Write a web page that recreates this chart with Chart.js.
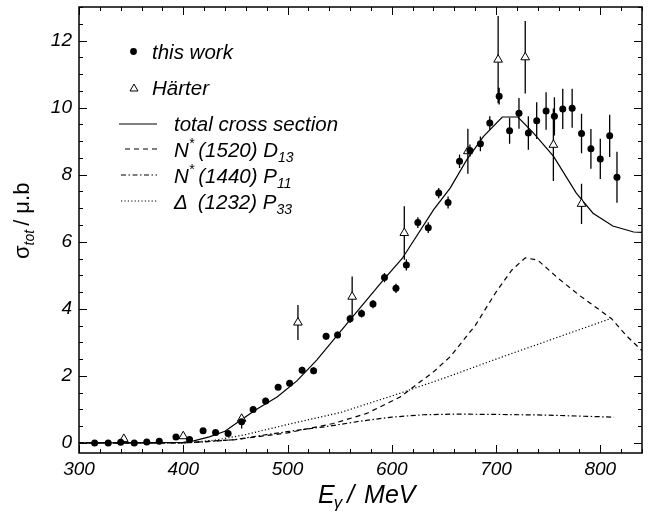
<!DOCTYPE html>
<html>
<head>
<meta charset="utf-8">
<script src="https://cdn.jsdelivr.net/npm/chart.js@4.4.0/dist/chart.umd.min.js"></script>
<style>
  html, body { margin: 0; padding: 0; background: #fff; }
  #wrap { width: 648px; height: 514px; position: relative; }
</style>
</head>
<body>
<div id="wrap"><canvas id="chart"></canvas></div>
<script>
// this work
const workE = [315, 328, 340, 353, 365, 377, 393, 406, 419, 431, 443, 456, 467, 479, 491, 502,
  514, 525, 537, 548, 560, 571, 582, 593, 604, 614, 625, 635, 645, 654, 665, 675, 685, 694,
  703, 713, 722, 731, 739, 748, 756, 764, 773, 782, 791, 800, 809, 816];
const workS = [0, 0, 0.02, 0, 0.03, 0.05, 0.18, 0.10, 0.36, 0.31, 0.28, 0.63, 1.0, 1.25, 1.66, 1.78,
  2.17, 2.15, 3.18, 3.22, 3.70, 3.86, 4.14, 4.93, 4.61, 5.31, 6.57, 6.42, 7.45, 7.17, 8.40, 8.72, 8.92, 9.54,
  10.34, 9.31, 9.83, 9.24, 9.61, 9.90, 9.74, 9.96, 9.98, 9.23, 8.77, 8.47, 9.16, 7.92];
const workErr = [0.03, 0.03, 0.03, 0.03, 0.03, 0.03, 0.05, 0.05, 0.06, 0.06, 0.06, 0.2, 0.08, 0.08, 0.08, 0.08,
  0.1, 0.1, 0.1, 0.1, 0.12, 0.12, 0.12, 0.14, 0.14, 0.17, 0.16, 0.16, 0.15, 0.18, 0.2, 0.18, 0.22, 0.2,
  0.25, 0.39, 0.46, 0.5, 0.55, 0.56, 0.57, 0.6, 0.58, 0.59, 0.59, 0.6, 0.63, 0.76];

// Härter
const harterE = [343, 400, 456, 510, 562, 612, 673, 702, 728, 755, 782];
const harterS = [0.12, 0.2, 0.72, 3.59, 4.36, 6.26, 8.70, 11.43, 11.5, 8.89, 7.13];
const harterErr = [0.05, 0.05, 0.12, 0.52, 0.6, 0.8, 0.67, 1.3, 1.08, 1.08, 0.6];

// model curves
const totE = [300, 340, 380, 400, 410, 425, 440, 456, 470, 490, 509, 528, 560, 592, 610, 640, 656,
  672, 688, 706, 721, 736, 755, 777, 793, 812, 832, 840];
const totS = [0, 0, 0.01, 0.02, 0.06, 0.18, 0.35, 0.7, 1.0, 1.37, 1.85, 2.47, 3.67, 4.86, 5.5, 6.95, 7.6,
  8.45, 9.14, 9.72, 9.72, 9.24, 8.55, 7.45, 6.85, 6.47, 6.29, 6.28];
const d13E = [300, 400, 450, 500, 544, 576, 608, 640, 656, 680, 700, 715, 728, 740, 760, 780, 800, 811, 825, 840];
const d13S = [0, 0, 0.1, 0.3, 0.58, 0.88, 1.37, 2.12, 2.57, 3.5, 4.5, 5.15, 5.52, 5.45, 4.9, 4.4, 3.95, 3.7, 3.2, 2.75];
const p11E = [300, 400, 420, 450, 480, 510, 540, 570, 600, 630, 660, 700, 750, 790, 813];
const p11S = [0, 0, 0.03, 0.1, 0.25, 0.38, 0.5, 0.65, 0.77, 0.84, 0.86, 0.85, 0.83, 0.79, 0.77];
const p33E = [300, 400, 430, 460, 500, 550, 600, 650, 700, 750, 811];
const p33S = [0, 0, 0.08, 0.25, 0.55, 0.9, 1.4, 1.93, 2.5, 3.05, 3.72];

const xTicks = [300, 400, 500, 600, 700, 800];
const yTicks = [0, 2, 4, 6, 8, 10, 12];
const xMinorStep = 20;
const yMinorStep = 0.5;

const FONT = '"Liberation Sans", Arial, sans-serif';
const pts = (xs, ys) => xs.map((x, i) => ({ x: x, y: ys[i] }));

const errorBars = {
  id: 'errorBars',
  beforeDatasetsDraw(chart) {
    const { ctx, scales: { x, y } } = chart;
    ctx.save();
    ctx.strokeStyle = '#000';
    ctx.lineWidth = 1.3;
    ctx.beginPath();
    [[workE, workS, workErr], [harterE, harterS, harterErr]].forEach(([es, ss, errs]) => {
      es.forEach((e, i) => {
        const px = x.getPixelForValue(e);
        ctx.moveTo(px, y.getPixelForValue(ss[i] - errs[i]));
        ctx.lineTo(px, y.getPixelForValue(ss[i] + errs[i]));
      });
    });
    ctx.stroke();
    ctx.restore();
  }
};

function drawRich(ctx, x, y, parts) {
  parts.forEach(p => {
    ctx.font = (p.italic === false ? '' : 'italic ') + p.size + 'px ' + FONT;
    ctx.fillText(p.t, x, y + (p.dy || 0));
    x += ctx.measureText(p.t).width + (p.gap || 0);
  });
}

const frameAndText = {
  id: 'frameAndText',
  afterDatasetsDraw(chart) {
    const { ctx, chartArea: a, scales: { x, y } } = chart;
    ctx.save();
    ctx.strokeStyle = '#000';
    ctx.lineWidth = 1;
    ctx.beginPath();
    for (let v = x.min; v <= x.max; v += xMinorStep) {
      const px = Math.round(x.getPixelForValue(v)) + 0.5;
      const len = xTicks.includes(v) ? 8 : 4;
      ctx.moveTo(px, a.bottom); ctx.lineTo(px, a.bottom - len);
      ctx.moveTo(px, a.top); ctx.lineTo(px, a.top + len);
    }
    for (let v = 0; v <= y.max; v += yMinorStep) {
      const py = Math.round(y.getPixelForValue(v)) + 0.5;
      const len = yTicks.includes(v) ? 8 : 4;
      ctx.moveTo(a.left, py); ctx.lineTo(a.left + len, py);
      ctx.moveTo(a.right, py); ctx.lineTo(a.right - len, py);
    }
    ctx.stroke();
    ctx.lineWidth = 1.5;
    ctx.strokeRect(a.left, a.top, a.right - a.left, a.bottom - a.top);

    // legend
    ctx.fillStyle = '#000';
    ctx.textBaseline = 'alphabetic';
    ctx.beginPath();
    ctx.arc(133.5, 51.5, 3.4, 0, Math.PI * 2);
    ctx.fill();
    ctx.lineWidth = 1;
    ctx.beginPath();
    ctx.moveTo(134, 84); ctx.lineTo(138, 91); ctx.lineTo(130, 91); ctx.closePath();
    ctx.stroke();
    drawRich(ctx, 152, 59, [{ t: 'this work', size: 20.5 }]);
    drawRich(ctx, 152, 95, [{ t: 'Härter', size: 20.5 }]);

    const rows = [
      { yy: 124, dash: [], x0: 119 },
      { yy: 149, dash: [5, 4], x0: 125 },
      { yy: 175, dash: [5, 2.5, 1.5, 2.5], x0: 121 },
      { yy: 201, dash: [1.2, 2.2], x0: 121 }
    ];
    ctx.lineWidth = 1.2;
    rows.forEach(r => {
      ctx.setLineDash(r.dash);
      ctx.beginPath();
      ctx.moveTo(r.x0, r.yy); ctx.lineTo(157, r.yy);
      ctx.stroke();
    });
    ctx.setLineDash([]);
    drawRich(ctx, 174, 131, [{ t: 'total cross section', size: 20.5 }]);
    drawRich(ctx, 174, 157, [{ t: 'N', size: 20.5 }, { t: '*', size: 14, dy: -9, gap: 4 },
      { t: '(1520) D', size: 20.5 }, { t: '13', size: 14, dy: 5 }]);
    drawRich(ctx, 174, 183, [{ t: 'N', size: 20.5 }, { t: '*', size: 14, dy: -9, gap: 4 },
      { t: '(1440) P', size: 20.5 }, { t: '11', size: 14, dy: 5 }]);
    drawRich(ctx, 174, 209, [{ t: 'Δ', size: 20.5, gap: 10 },
      { t: '(1232) P', size: 20.5 }, { t: '33', size: 14, dy: 5 }]);

    // axis titles
    drawRich(ctx, 318, 503, [{ t: 'E', size: 25, gap: -1 }, { t: 'γ', size: 17, dy: 5, gap: 5 },
      { t: '/', size: 25, gap: 10 }, { t: 'MeV', size: 25 }]);
    ctx.save();
    ctx.translate(29, 259);
    ctx.rotate(-Math.PI / 2);
    drawRich(ctx, 0, 0, [{ t: 'σ', size: 22, italic: false }, { t: 'tot', size: 14, dy: 5, gap: 4 },
      { t: '/ μ.b', size: 22, italic: false }]);
    ctx.restore();
    ctx.restore();
  }
};

const lineSet = (label, xs, ys, dash) => ({
  label: label,
  data: pts(xs, ys),
  showLine: true,
  borderColor: '#000',
  borderWidth: 1.2,
  borderDash: dash,
  pointRadius: 0,
  tension: 0,
  fill: false
});

new Chart(document.getElementById('chart').getContext('2d'), {
  type: 'scatter',
  data: {
    datasets: [
      {
        label: 'this work',
        data: pts(workE, workS),
        pointStyle: 'circle',
        pointRadius: 3.5,
        backgroundColor: '#000',
        borderColor: '#000',
        borderWidth: 0
      },
      {
        label: 'Härter',
        data: pts(harterE, harterS),
        pointStyle: 'triangle',
        pointRadius: 5,
        backgroundColor: '#fff',
        borderColor: '#000',
        borderWidth: 1
      },
      lineSet('total cross section', totE, totS, []),
      lineSet('N* (1520) D13', d13E, d13S, [5, 4]),
      lineSet('N* (1440) P11', p11E, p11S, [5, 2.5, 1.5, 2.5]),
      lineSet('Δ (1232) P33', p33E, p33S, [1.2, 2.2])
    ]
  },
  options: {
    responsive: true,
    maintainAspectRatio: false,
    animation: false,
    layout: { padding: { top: 7, right: 6, left: 0, bottom: 0 } },
    plugins: { legend: { display: false }, tooltip: { enabled: false } },
    scales: {
      x: {
        type: 'linear',
        min: 300,
        max: 840,
        grid: { display: false, drawTicks: false },
        border: { display: false },
        afterBuildTicks: s => { s.ticks = xTicks.map(v => ({ value: v })); },
        afterFit: s => { s.height = 61; s.paddingLeft = 0; s.paddingRight = 0; },
        ticks: { color: '#000', padding: 5, maxRotation: 0, font: { family: FONT, size: 19, style: 'italic' } }
      },
      y: {
        type: 'linear',
        min: -0.3,
        max: 13,
        grid: { display: false, drawTicks: false },
        border: { display: false },
        afterBuildTicks: s => { s.ticks = yTicks.map(v => ({ value: v })); },
        afterFit: s => { s.width = 79; s.paddingTop = 0; s.paddingBottom = 0; },
        ticks: { color: '#000', padding: 7, font: { family: FONT, size: 19, style: 'italic' } }
      }
    }
  },
  plugins: [errorBars, frameAndText]
});
</script>
</body>
</html>
